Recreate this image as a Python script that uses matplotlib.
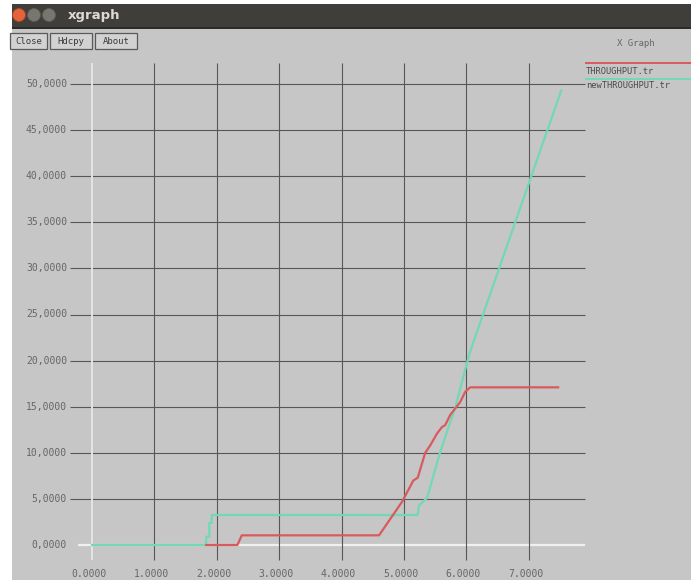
import matplotlib
matplotlib.use("Agg")
import matplotlib.pyplot as plt
from matplotlib.patches import Rectangle, Circle

# data
x_ticks = [0, 1, 2, 3, 4, 5, 6, 7]
y_ticks = [0, 5, 10, 15, 20, 25, 30, 35, 40, 45, 50]

red_x = [1.83, 2.33, 2.40, 4.60, 4.97, 5.15, 5.22, 5.34, 5.42, 5.53, 5.61, 5.66, 5.74, 5.90, 5.98, 6.06, 7.47]
red_y = [0, 0, 1.05, 1.05, 4.7, 7.0, 7.3, 10.0, 10.8, 12.1, 12.8, 13.0, 14.1, 15.5, 16.6, 17.1, 17.1]

green_x = [0, 1.83, 1.83, 1.88, 1.88, 1.92, 1.92, 5.22, 5.24, 5.37, 5.58, 5.82, 5.98, 6.06, 7.52]
green_y = [0, 0, 0.9, 0.9, 2.4, 2.4, 3.25, 3.25, 4.3, 5.1, 10.1, 14.9, 19.0, 21.0, 49.3]

legend_names = ["THROUGHPUT.tr", "newTHROUGHPUT.tr"]

RED = "#d95a5e"
GREEN = "#72d9b4"
BG = "#c6c6c6"
GRID = "#575757"
TXT = "#666666"
MONO = "DejaVu Sans Mono"

W, H = 691, 580
fig = plt.figure(figsize=(W / 100, H / 100), dpi=100, facecolor="white")

# window chrome in pixel coordinates
chrome = fig.add_axes([0, 0, 1, 1])
chrome.set_xlim(0, W)
chrome.set_ylim(H, 0)
chrome.axis("off")
chrome.add_patch(Rectangle((12, 4), W - 12, H - 4, facecolor=BG, edgecolor="none"))
chrome.add_patch(Rectangle((12, 4), W - 12, 24, facecolor="#3f3e3a", edgecolor="none"))
chrome.add_patch(Rectangle((12, 27), W - 12, 1.5, facecolor="#2b2a27", edgecolor="none"))
chrome.add_patch(Circle((19, 15), 6.5, facecolor="#e5633b", edgecolor="#a8432a", lw=0.6))
chrome.add_patch(Circle((34, 15), 6.5, facecolor="#77766f", edgecolor="#5c5b56", lw=0.6))
chrome.add_patch(Circle((49, 15), 6.5, facecolor="#77766f", edgecolor="#5c5b56", lw=0.6))
chrome.text(68, 15, "xgraph", color="#dedad2", fontsize=9.5, fontweight="bold",
            va="center", ha="left", family="DejaVu Sans")

for label, x0, x1 in [("Close", 10, 47), ("Hdcpy", 50, 92), ("About", 95, 137)]:
    chrome.add_patch(Rectangle((x0, 33), x1 - x0, 16, facecolor="#d2d2d2",
                               edgecolor="#5a5a5a", lw=0.9))
    chrome.text((x0 + x1) / 2, 41.5, label, color="#3a3a3a", fontsize=6.5,
                ha="center", va="center", family=MONO)

chrome.text(636, 43, "X Graph", color=TXT, fontsize=6.5, ha="center", va="center", family=MONO)

# legend
chrome.plot([585, W], [63, 63], color=RED, lw=1.4, solid_capstyle="butt")
chrome.text(586, 71, legend_names[0], color="#4a4a4a", fontsize=6.3, ha="left", va="center", family=MONO)
chrome.plot([585, W], [79, 79], color=GREEN, lw=1.4, solid_capstyle="butt")
chrome.text(586, 86, legend_names[1], color="#4a4a4a", fontsize=6.3, ha="left", va="center", family=MONO)

# plot area: x=0 at px 92, 62.4 px per unit; y=0 at px 545, 9.22 px per unit
px_x, px_y = 62.4, 9.22
left, right, top, bottom = 92, 592, 60, 565
ax = fig.add_axes([left / W, (H - bottom) / H, (right - left) / W, (bottom - top) / H])
ax.set_xlim(0, (right - left) / px_x)
ax.set_ylim(-(bottom - 545) / px_y, (545 - top) / px_y)
ax.axis("off")
ax.patch.set_alpha(0)

gx0 = (70 - 92) / px_x
gx1 = (585 - 92) / px_x
gy0 = (545 - 560) / px_y
gy1 = (545 - 63) / px_y

for yv in y_ticks:
    if yv == 0:
        ax.hlines(yv, (78 - 92) / px_x, gx1, color="#f0f0f0", lw=1.6, clip_on=False)
    else:
        ax.hlines(yv, gx0, gx1, color=GRID, lw=0.8, clip_on=False)
    ax.text((67 - 92) / px_x, yv, f"{yv},0000", color=TXT, fontsize=7, ha="right",
            va="center", family=MONO, clip_on=False)

for xv in x_ticks:
    if xv == 0:
        ax.vlines(xv, gy0, gy1, color="#e4e4e4", lw=1.4, clip_on=False)
    else:
        ax.vlines(xv, gy0, gy1, color=GRID, lw=0.8, clip_on=False)
    ax.text(xv - 0.05, (545 - 574) / px_y, f"{xv}.0000", color=TXT, fontsize=7,
            ha="center", va="center", family=MONO, clip_on=False)

ax.plot(green_x, green_y, color=GREEN, lw=1.6, clip_on=False)
ax.plot(red_x, red_y, color=RED, lw=1.6, clip_on=False)

fig.savefig("out.png", dpi=100, facecolor="white")
